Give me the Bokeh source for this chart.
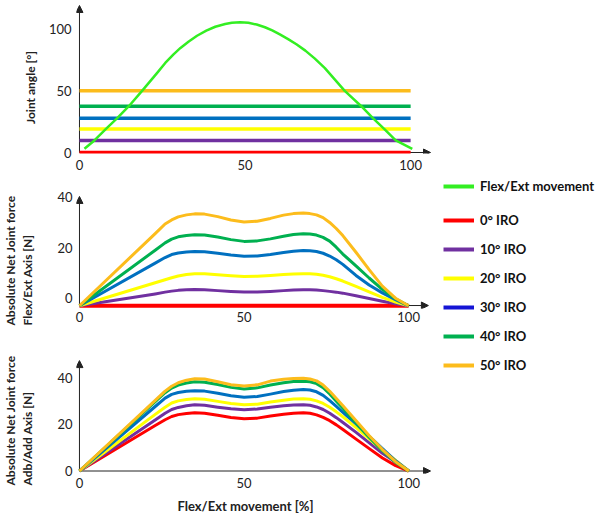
from bokeh.plotting import figure
from bokeh.models import (FixedTicker, Label, Arrow, NormalHead, Legend, LegendItem,
                          ColumnDataSource, Range1d)
from bokeh.layouts import column, row
from bokeh.embed import file_html
from bokeh.resources import INLINE

# ---------------- data ----------------
iro_labels = ["0° IRO", "10° IRO", "20° IRO", "30° IRO", "40° IRO", "50° IRO"]
iro_colors = ["#ff0000", "#7030a0", "#ffff00", "#0070c0", "#00b050", "#fcbc1c"]
legend_colors = ["#ff0000", "#7030a0", "#ffff00", "#1515d5", "#00b050", "#fcbc1c"]
movement_color = "#33ee22"

# panel 1: joint angle
movement_x = [1.5, 4.5, 8, 11.4, 14.9, 18.9, 23.4, 25.9, 28.4, 30.5, 33, 35.5, 38.3, 41, 44,
              46, 48.5, 51, 53.5, 56, 58.2, 60.5, 63, 65.5, 68.2, 71, 74.1, 77, 80.1,
              85.1, 88.6, 92, 95.5, 100.5]
movement_y = [3, 9.8, 19.2, 27.9, 37.6, 50.1, 64.5, 72.8, 79.8, 85.0, 90.3, 94.9, 99.0, 102.2, 104.4,
              105.4, 105.9, 105.4, 104.0, 101.8, 99.2, 96.0, 92.2, 88.0, 82.8, 76.5, 68.6, 59.7, 50.1,
              37.6, 27.9, 19.2, 9.8, 3]
iro_angle_x = [0, 100]
iro_angle_levels = [0, 9.8, 19.2, 27.9, 37.6, 50.1]

# panel 2 & 3 shared x positions (% of movement)
force_x = [0, 23, 26, 28, 30, 32.5, 35, 38, 42, 46, 50, 54, 58, 62, 65, 68, 70, 72, 74, 76, 78,
           80, 84, 88, 92, 96, 100]

flex_iro0 = [-3, -3, -3, -3, -3, -3, -3, -3, -3, -3, -3, -3, -3, -3, -3, -3, -3, -3, -3, -3, -3,
             -3, -3, -3, -3, -3, -3]
flex_iro10 = [-3, 1.7, 2.4, 2.8, 3.1, 3.3, 3.4, 3.3, 3.0, 2.7, 2.5, 2.5, 2.7, 3.0, 3.2, 3.3, 3.3,
              3.2, 3.0, 2.7, 2.4, 2.0, 1.0, -0.1, -1.2, -2.2, -3]
flex_iro20 = [-3, 6.1, 7.3, 8.1, 8.8, 9.4, 9.7, 9.7, 9.3, 8.9, 8.6, 8.7, 9.0, 9.4, 9.6, 9.7, 9.7,
              9.5, 9.1, 8.5, 7.7, 6.8, 4.7, 2.5, 0.3, -1.5, -3]
flex_iro30 = [-3, 13.9, 16.1, 17.3, 17.9, 18.3, 18.5, 18.4, 17.8, 17.1, 16.6, 16.7, 17.3, 18.1, 18.6,
              18.9, 18.8, 18.5, 17.8, 16.7, 15.2, 13.4, 9.0, 5.2, 2.1, -0.6, -3]
flex_iro40 = [-3, 19.0, 21.9, 23.4, 24.3, 24.8, 25.1, 25.0, 24.2, 23.2, 22.5, 22.7, 23.5, 24.5, 25.2,
              25.5, 25.4, 25.0, 24.1, 22.6, 20.2, 17.5, 12.8, 8.0, 3.5, -0.2, -3]
flex_iro50 = [-3, 25.6, 29.4, 31.0, 32.2, 33.0, 33.4, 33.3, 32.3, 31.0, 30.2, 30.5, 31.6, 32.9, 33.5,
              33.7, 33.5, 33.0, 31.9, 30.0, 27.6, 24.8, 18.2, 11.3, 4.8, 0.0, -3]

adab_iro0 = [0, 19.5, 22.0, 23.4, 24.2, 24.7, 25.0, 24.8, 23.9, 23.0, 22.4, 22.7, 23.6, 24.4, 24.8,
             25.0, 24.8, 24.1, 23.0, 21.6, 19.8, 17.8, 13.7, 9.6, 5.6, 2.3, 0]
adab_iro10 = [0, 21.9, 24.8, 26.4, 27.3, 28.0, 28.4, 28.2, 27.4, 26.7, 26.3, 26.6, 27.4, 28.0, 28.3,
              28.4, 28.2, 27.5, 26.4, 24.8, 22.9, 20.8, 16.6, 12.1, 7.6, 3.9, 0]
adab_iro20 = [0, 24.3, 27.4, 29.2, 30.1, 30.7, 31.0, 30.8, 29.9, 29.0, 28.4, 28.7, 29.6, 30.4, 30.9,
              31.0, 30.8, 30.1, 29.0, 27.4, 25.4, 23.3, 18.6, 13.8, 8.9, 4.6, 0]
adab_iro30 = [0, 27.7, 31.3, 32.9, 33.7, 34.2, 34.5, 34.3, 33.4, 32.3, 31.7, 32.0, 33.0, 34.1, 34.7,
              35.0, 34.8, 34.0, 32.5, 30.2, 27.7, 25.2, 20.2, 14.9, 9.6, 4.4, 0]
adab_iro40 = [0, 29.8, 33.6, 35.6, 36.9, 37.8, 38.3, 38.1, 37.1, 35.9, 35.2, 35.7, 36.9, 37.9, 38.4,
              38.5, 38.3, 37.5, 35.8, 33.1, 30.0, 26.9, 20.6, 14.4, 8.7, 3.7, 0]
adab_iro50 = [0, 30.3, 34.3, 36.4, 37.9, 39.0, 39.6, 39.5, 38.3, 37.0, 36.5, 37.0, 38.6, 39.4, 39.7,
              39.8, 39.5, 38.7, 36.9, 34.2, 31.1, 28.0, 21.6, 15.1, 9.2, 4.0, 0]

flex_series = [flex_iro0, flex_iro10, flex_iro20, flex_iro30, flex_iro40, flex_iro50]
adab_series = [adab_iro0, adab_iro10, adab_iro20, adab_iro30, adab_iro40, adab_iro50]

x_ticks = [0, 50, 100]
angle_ticks = [0, 50, 100]
force_ticks = [0, 20, 40]

FONT = "Lato"
TXT = "#222222"


def make_fig(height, x_range, y_range, borders, yticks, xstandoff, ystandoff):
    left, right, top, bottom = borders
    p = figure(width=400, height=height, x_range=Range1d(*x_range), y_range=Range1d(*y_range),
               output_backend="svg", toolbar_location=None,
               min_border_left=left, min_border_right=right,
               min_border_top=top, min_border_bottom=bottom)
    p.outline_line_color = None
    p.grid.visible = False
    p.xaxis.ticker = FixedTicker(ticks=x_ticks)
    p.yaxis.ticker = FixedTicker(ticks=yticks)
    for ax in (p.xaxis, p.yaxis):
        ax.axis_line_color = None
        ax.major_tick_line_color = None
        ax.minor_tick_line_color = None
        ax.major_tick_out = 0
        ax.major_tick_in = 0
        ax.major_label_text_font = FONT
        ax.major_label_text_font_size = "13px"
        ax.major_label_text_color = TXT
    p.xaxis.major_label_standoff = xstandoff
    p.yaxis.major_label_standoff = ystandoff
    return p


def text_fig(width, height):
    t = figure(width=width, height=height, x_range=Range1d(0, 1), y_range=Range1d(0, 1),
               output_backend="svg", toolbar_location=None, x_axis_type=None, y_axis_type=None,
               min_border=0)
    t.outline_line_color = None
    t.grid.visible = False
    return t


def add_arrows(p, x0, y0, x_end, y_top):
    for xe, ye in ((x_end, y0), (x0, y_top)):
        p.add_layout(Arrow(end=NormalHead(size=7, fill_color=TXT, line_color=TXT),
                           x_start=x0, y_start=y0, x_end=xe, y_end=ye,
                           line_color=TXT, line_width=1, level="underlay"))


def add_text(t, text, x, y, align, angle=1.5707963, size="12px"):
    t.add_layout(Label(text=text, x=x, y=y, x_units="screen", y_units="screen",
                       angle=angle, text_align=align, text_baseline="middle",
                       text_font=FONT, text_font_style="bold", text_font_size=size,
                       text_color=TXT))


# ---------------- panel 1 ----------------
p1 = make_fig(175, (-0.9, 106.6), (-0.81, 120.3), (32, 8, 4, 22), angle_ticks, 6, 5)
add_arrows(p1, 0, 0, 106, 119.5)
for lvl, c in zip(iro_angle_levels, iro_colors):
    p1.line(iro_angle_x, [lvl, lvl], line_color=c, line_width=3.5)
p1.line(movement_x, movement_y, line_color=movement_color, line_width=2.5, line_join="round")

# ---------------- panel 2 ----------------
p2 = make_fig(153, (-0.906, 107.25), (-4.08, 41.07), (34, 8, 19, 20), force_ticks, 3, 4)
add_arrows(p2, 0, -2.9, 106, 40.3)
for i, (ys, c) in enumerate(zip(flex_series, iro_colors)):
    p2.line(force_x, ys, line_color=c, line_width=4 if i == 0 else 3, line_join="round")

# ---------------- panel 3 ----------------
p3 = make_fig(165, (-0.9, 107.2), (-1.07, 48.3), (36, 4, 30, 20), force_ticks, 4, 4)
add_arrows(p3, 0, 0, 106.6, 47.4)
for ys, c in zip(adab_series, iro_colors):
    p3.line(force_x, ys, line_color=c, line_width=3, line_join="round")

tx = text_fig(400, 21)
add_text(tx, "Flex/Ext movement [%]", 169, 9, "center", angle=0, size="13px")

# ---------------- y titles (left strip) ----------------
ty = text_fig(40, 514)
add_text(ty, "Joint angle [°]", 30, 427, "center")
add_text(ty, "Absolute Net Joint force", 10, 189, "left")
add_text(ty, "Flex/Ext Axis [N]", 27, 189, "left")
add_text(ty, "Absolute Net Joint force", 10, 29, "left")
add_text(ty, "Adb/Add Axis [N]", 27, 29, "left")

# ---------------- legend panel ----------------
pl = text_fig(160, 514)
one = dict(x=[0.5], y=[0.5])
mv = pl.line(x="x", y="y", source=ColumnDataSource(one), line_color=movement_color, line_width=4)
iro_rs = [pl.line(x="x", y="y", source=ColumnDataSource(one), line_color=c, line_width=4)
          for c in legend_colors]


def make_legend(items, loc):
    lg = Legend(items=items, location=loc, glyph_width=31, glyph_height=20, label_height=20,
                label_standoff=6, padding=0, margin=0, spacing=9, border_line_color=None,
                background_fill_alpha=0, label_text_font=FONT, label_text_font_style="bold",
                label_text_font_size="13px", label_text_color="#111111")
    pl.add_layout(lg)


make_legend([LegendItem(label="Flex/Ext movement", renderers=[mv])], (3, 318))
make_legend([LegendItem(label=l, renderers=[r]) for l, r in zip(iro_labels, iro_rs)], (3, 139))

layout = row(ty, column(p1, p2, p3, tx), pl)
open("out.html", "w").write(file_html(layout, INLINE))
